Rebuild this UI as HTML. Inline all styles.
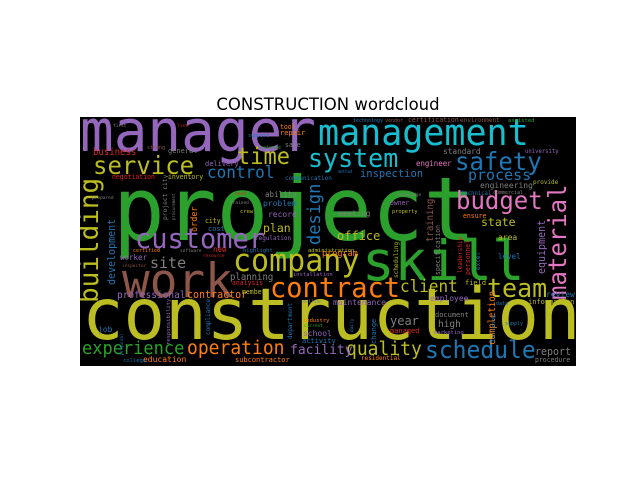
<!DOCTYPE html>
<html><head><meta charset="utf-8"><style>
html,body{margin:0;padding:0;background:#fff;width:640px;height:480px;overflow:hidden}
svg{display:block}
</style></head><body>
<svg id="chart" width="640" height="480" viewBox="0 0 640 480" xmlns="http://www.w3.org/2000/svg">
<text x="328" y="110" text-anchor="middle" font-family="DejaVu Sans, Liberation Sans, sans-serif" font-size="16.5" fill="#000">CONSTRUCTION wordcloud</text>
<defs><clipPath id="clip"><rect x="80" y="117" width="496" height="249"/></clipPath></defs>
<rect x="80" y="117" width="496" height="249" fill="#000"/>
<g id="cloud" clip-path="url(#clip)"></g>
</svg>
<script>
const words = ["manager","management","project","skill","construction","work","company","contract","customer","service","time","system","safety","budget","process","material","team","schedule","quality","operation","experience","facility","client","building","development","control","site","design","office","inspection","training","state","order","business","year","high","program","contractor","professional","planning","report","review","equipment","completion","specification","subcontractor","education","level","employee","maintenance","document","managed","school","activity","problem","record","ability","cost","city","delivery","inventory","negotiation","general","repair","tool","sale","engineer","standard","engineering","certification","environment","meeting","owner","area","ensure","installation","analysis","job","worker","field","information","personnel","leadership","excel","scheduling","residential","procedure","change","compliance","department","communication","plan","crew","regulation","highlight","administration","member","industry","current","million","new","technical","commercial","provide","university","technology","vendor","assisted","property","knowledge","method","marketing","data","supply","strong","support","science","first","list","prepared","need","trained","project city","procurement","college","software","certified","inspector","resource","including","daily","responsibility","proposal"];
const sizes = [56,35,86,54,69,46,30,27,27,24,22,25,24,24,15,24,25,23,18,18,17,13,16,26,10,16,15,17,12,10.5,9,11.5,8.5,9,12,9.5,8.5,10,9.5,9,10,8,10,9,6.4,7,8,7.5,8,8,7,7,8,7,8,8,7.5,7,6.5,7,6.5,6.5,7,7,6.5,6.5,7.4,7.8,8,6.5,6,7.7,6.4,8,6.5,5.5,6.5,8,7.5,7,7,6.5,6,6,6,6,6.5,7,6,6,6,11.5,5.5,6,5.5,5.5,6.5,5.5,4.5,4.5,7.5,5.6,5,6,5.6,5,5,5.5,5.3,4.5,4,5.5,5,5,5,5,5,4.5,4.5,4.5,4.5,4.5,6.3,4,5.5,4.5,5,4.5,4.5,5,4.5,5.5,4.5];
const colors = ["#9467bd","#17becf","#2ca02c","#2ca02c","#bcbd22","#8c564b","#bcbd22","#ff7f0e","#9467bd","#bcbd22","#bcbd22","#17becf","#1f77b4","#e377c2","#1f77b4","#e377c2","#bcbd22","#1f77b4","#bcbd22","#ff7f0e","#2ca02c","#9467bd","#bcbd22","#bcbd22","#1f77b4","#1f77b4","#7f7f7f","#1f77b4","#bcbd22","#1f77b4","#8c564b","#bcbd22","#ff7f0e","#d62728","#7f7f7f","#7f7f7f","#ff7f0e","#ff7f0e","#9467bd","#7f7f7f","#7f7f7f","#1f77b4","#9467bd","#ff7f0e","#7f7f7f","#ff7f0e","#ff7f0e","#1f77b4","#9467bd","#9467bd","#7f7f7f","#d62728","#9467bd","#1f77b4","#1f77b4","#9467bd","#7f7f7f","#1f77b4","#bcbd22","#9467bd","#bcbd22","#d62728","#7f7f7f","#ff7f0e","#ff7f0e","#7f7f7f","#e377c2","#7f7f7f","#7f7f7f","#8c564b","#8c564b","#7f7f7f","#9467bd","#bcbd22","#ff7f0e","#9467bd","#d62728","#1f77b4","#9467bd","#bcbd22","#bcbd22","#d62728","#d62728","#1f77b4","#bcbd22","#ff7f0e","#7f7f7f","#1f77b4","#1f77b4","#1f77b4","#1f77b4","#bcbd22","#bcbd22","#9467bd","#1f77b4","#bcbd22","#bcbd22","#ff7f0e","#2ca02c","#7f7f7f","#d62728","#1f77b4","#7f7f7f","#bcbd22","#9467bd","#1f77b4","#8c564b","#2ca02c","#bcbd22","#7f7f7f","#1f77b4","#9467bd","#1f77b4","#1f77b4","#8c564b","#1f77b4","#2ca02c","#7f7f7f","#d62728","#7f7f7f","#d62728","#7f7f7f","#7f7f7f","#7f7f7f","#1f77b4","#7f7f7f","#ff7f0e","#8c564b","#d62728","#1f77b4","#1f77b4","#9467bd","#1f77b4"];
const layoutX = [80,318,113,362,82,122,233,270,135,93,237,308,455,456,468,566,487,425,346,187,82,290,400,98,115,207,150,320,337,360,433,481,197,93,390,438,322,187,117,230,535,546,545,495,440,235,143,498,430,333,435,390,303,302,263,268,265,208,205,205,168,112,168,280,280,285,416,443,480,408,460,338,390,498,463,293,232,98,120,465,528,470,462,480,398,361,535,376,210,292,285,263,240,255,243,308,242,303,304,303,213,461,493,533,525,353,385,508,392,397,338,434,496,505,147,248,260,113,177,92,235,230,167,175,123,180,133,122,203,495,353,170,123];
const layoutY = [151,145,240,280,339,297,271,297,248,174,164,167,170,209,180,300,297,358,355,354,354,354,292,303,285,178,268,245,240,177,242,226,232,155,325,327,256,298,298,280,355,297,274,345,275,362,362,259,301,305,317,333,336,343,206,217,197,231,223,166,179,179,153,135,129,147,166,154,188,122,122,216,205,240,218,276,285,332,260,285,304,275,273,270,278,360,362,344,335,339,180,232,213,240,252,252,294,322,327,303,252,195,194,184,153,122,122,122,213,196,173,334,305,325,149,137,149,127,127,199,195,204,220,220,362,252,252,267,257,342,332,345,355];
const rotations = [0,0,0,0,0,0,0,0,0,0,0,0,0,0,0,-90,0,0,0,0,0,0,0,-90,-90,0,0,-90,0,0,-90,0,-90,0,0,0,0,0,0,0,0,0,-90,-90,-90,0,0,0,0,0,0,0,0,0,0,0,0,0,0,0,0,0,0,0,0,0,0,0,0,0,0,0,0,0,0,0,0,0,0,0,0,-90,-90,-90,-90,0,0,-90,-90,-90,0,0,0,0,0,0,0,0,0,0,0,0,0,0,0,0,0,0,0,0,0,0,0,0,0,0,0,0,0,0,0,0,-90,-90,0,0,0,0,0,-90,-90,-90,-90];
const g = document.getElementById('cloud');
const NS = 'http://www.w3.org/2000/svg';
for (let i = 0; i < words.length; i++) {
  const t = document.createElementNS(NS, 'text');
  
  
  t.setAttribute('transform', 'translate(' + layoutX[i] + ',' + layoutY[i] + ') rotate(' + rotations[i] + ') scale(1,1.03)');
  t.setAttribute('font-family', 'DejaVu Sans Mono, Liberation Mono, monospace');
  t.setAttribute('font-size', sizes[i]);
  t.setAttribute('fill', colors[i]);
  t.textContent = words[i];
  g.appendChild(t);
}
</script>
</body></html>
